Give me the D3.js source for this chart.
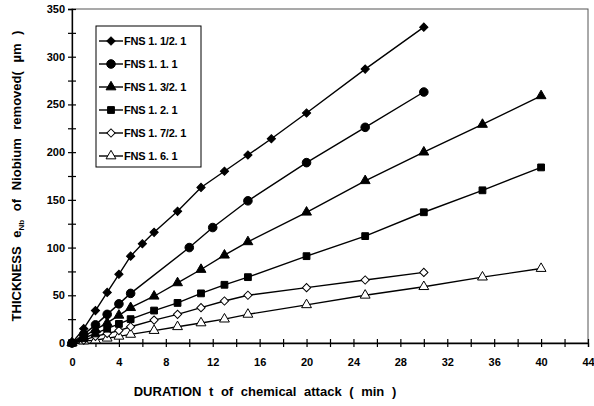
<!DOCTYPE html>
<html lang="en">
<head>
    <meta charset="UTF-8">
    <title>Niobium removal</title>
    <script src="https://d3js.org/d3.v7.min.js"></script>
    <style>
        body { margin: 0; background: #fff; }
        svg { font-family: "Liberation Sans", Arial, sans-serif; font-weight: bold; }
    </style>
</head>
<body>
<svg width="594" height="406"></svg>
<script>
    // series names and values
    var names = ["FNS 1. 1/2. 1", "FNS 1. 1. 1", "FNS 1. 3/2. 1", "FNS 1. 2. 1", "FNS 1. 7/2. 1", "FNS 1. 6. 1"];

    var t1 = [0, 1, 2, 3, 4, 5, 6, 7, 9, 11, 13, 15, 17, 20, 25, 30];
    var v1 = [0, 15, 34, 53, 72, 91, 104, 116, 138, 163, 180, 197, 214, 241, 287, 331];

    var t2 = [0, 1, 2, 3, 4, 5, 10, 12, 15, 20, 25, 30];
    var v2 = [0, 9, 19, 30, 41, 52, 100, 121, 149, 189, 226, 263];

    var t3 = [0, 1, 2, 3, 4, 5, 7, 9, 11, 13, 15, 20, 25, 30, 35, 40];
    var v3 = [0, 7, 14, 21, 29, 37, 49, 63, 77, 92, 106, 137, 170, 200, 229, 259];

    var t4 = [0, 1, 2, 3, 4, 5, 7, 9, 11, 13, 15, 20, 25, 30, 35, 40];
    var v4 = [0, 5, 10, 15, 20, 25, 34, 42, 52, 61, 69, 91, 112, 137, 160, 184];

    var t5 = [0, 1, 2, 3, 4, 5, 7, 9, 11, 13, 15, 20, 25, 30];
    var v5 = [0, 3, 7, 10, 13, 17, 24, 30, 37, 44, 50, 58, 66, 74];

    var t6 = [0, 1, 2, 3, 4, 5, 7, 9, 11, 13, 15, 20, 25, 30, 35, 40];
    var v6 = [0, 2, 3, 5, 7, 9, 13, 17, 21, 25, 30, 40, 50, 59, 69, 78];

    var xTicks = [0, 4, 8, 12, 16, 20, 24, 28, 32, 36, 40, 44];
    var yTicks = [0, 50, 100, 150, 200, 250, 300, 350];

    var times = [t1, t2, t3, t4, t5, t6];
    var values = [v1, v2, v3, v4, v5, v6];
    var shapes = [d3.symbolSquare, d3.symbolCircle, d3.symbolTriangle, d3.symbolSquare, d3.symbolSquare, d3.symbolTriangle];
    var turns = [45, 0, 0, 0, 45, 0];
    var fills = ["#000", "#000", "#000", "#000", "#fff", "#fff"];
    var sizes = [34, 58, 42, 46, 34, 42];

    var svg = d3.select("svg");
    var plotL = 72, plotR = 588, plotT = 9, plotB = 343;

    var x = d3.scaleLinear().domain([0, 44]).range([plotL, plotR]);
    var y = d3.scaleLinear().domain([0, 350]).range([plotB, plotT]);

    // frame
    svg.append("rect")
        .attr("x", plotL).attr("y", plotT)
        .attr("width", plotR - plotL).attr("height", plotB - plotT)
        .attr("fill", "none").attr("stroke", "#555").attr("stroke-width", 1);

    // axes
    var xAxis = svg.append("g").attr("transform", "translate(0," + plotB + ")")
        .call(d3.axisBottom(x).tickValues(d3.range(0, 45, 2)).tickSize(4)
            .tickFormat(function (d) { return xTicks.indexOf(d) >= 0 ? d : ""; }));
    xAxis.select(".domain").attr("stroke", "#000").attr("stroke-width", 1.3);
    xAxis.selectAll(".tick line").attr("y1", -4).attr("stroke-width", 1.2);
    xAxis.selectAll("text").attr("font-size", 11).attr("font-weight", "bold")
        .attr("font-family", "Liberation Sans, Arial, sans-serif").attr("y", 15).attr("fill", "#000");

    var yAxis = svg.append("g").attr("transform", "translate(" + plotL + ",0)")
        .call(d3.axisLeft(y).tickValues(d3.range(0, 351, 25)).tickSize(4)
            .tickFormat(function (d) { return yTicks.indexOf(d) >= 0 ? d : ""; }));
    yAxis.select(".domain").attr("stroke", "#000").attr("stroke-width", 1.3);
    yAxis.selectAll(".tick line").attr("x1", 4).attr("stroke-width", 1.2);
    yAxis.selectAll("text").attr("font-size", 11).attr("font-weight", "bold")
        .attr("font-family", "Liberation Sans, Arial, sans-serif").attr("x", -7).attr("fill", "#000");

    // series
    var line = d3.line().x(function (d) { return x(d[0]); }).y(function (d) { return y(d[1]); });

    function addSeries(i) {
        var pts = d3.zip(times[i], values[i]);
        svg.append("path").datum(pts)
            .attr("d", line).attr("fill", "none")
            .attr("stroke", "#000").attr("stroke-width", 1.4);
        svg.selectAll(".m" + i).data(pts).enter().append("path")
            .attr("class", "m" + i)
            .attr("d", d3.symbol().type(shapes[i]).size(sizes[i]))
            .attr("transform", function (d) {
                return "translate(" + x(d[0]) + "," + y(d[1]) + ") rotate(" + turns[i] + ")";
            })
            .attr("fill", fills[i]).attr("stroke", "#000").attr("stroke-width", 1);
    }
    for (var i = names.length - 1; i >= 0; i--) addSeries(i);

    // legend
    var lg = svg.append("g");
    lg.append("rect").attr("x", 96).attr("y", 26).attr("width", 105).attr("height", 141)
        .attr("fill", "#fff").attr("stroke", "#000").attr("stroke-width", 1);
    names.forEach(function (n, k) {
        var yy = 41 + k * 23;
        lg.append("line").attr("x1", 99).attr("x2", 123).attr("y1", yy).attr("y2", yy)
            .attr("stroke", "#000").attr("stroke-width", 1.4);
        lg.append("path").attr("d", d3.symbol().type(shapes[k]).size(sizes[k]))
            .attr("transform", "translate(111," + yy + ") rotate(" + turns[k] + ")")
            .attr("fill", fills[k]).attr("stroke", "#000");
        lg.append("text").attr("x", 124).attr("y", yy + 4).attr("font-size", 11)
            .attr("letter-spacing", -0.2).text(n);
    });

    // axis titles
    svg.append("text").attr("x", 265).attr("y", 396).attr("text-anchor", "middle")
        .attr("font-size", 13).attr("word-spacing", 4).text("DURATION t of chemical attack ( min )");

    var yt = svg.append("text").attr("transform", "translate(21,176) rotate(-90)")
        .attr("text-anchor", "middle").attr("font-size", 13).attr("word-spacing", 5);
    yt.append("tspan").text("THICKNESS e");
    yt.append("tspan").attr("font-size", 8).attr("dy", 3).text("Nb");
    yt.append("tspan").attr("dy", -3).text(" of Niobium removed( \u00b5m )");
</script>
</body>
</html>
